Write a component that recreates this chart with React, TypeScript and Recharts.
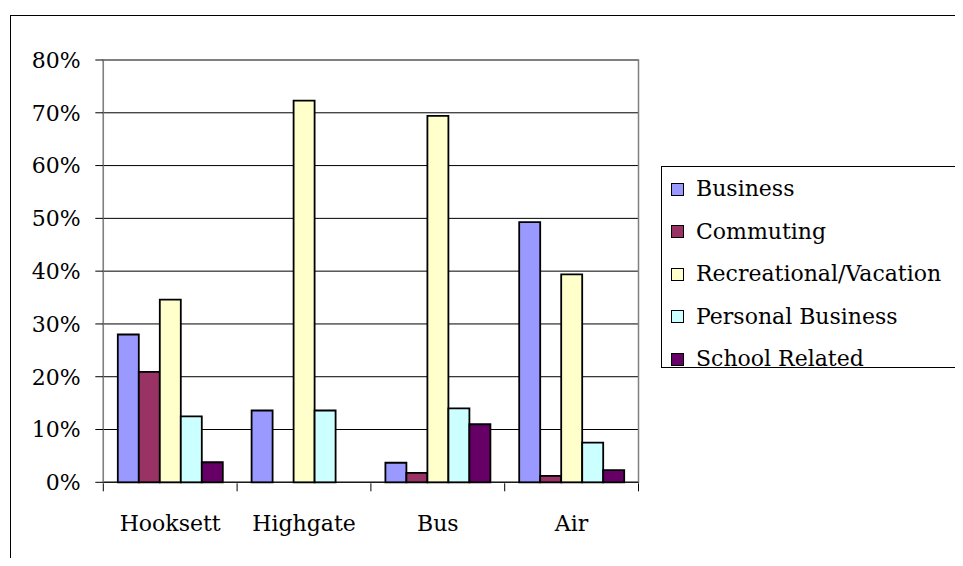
import React from 'react';
import {
  BarChart,
  Bar,
  XAxis,
  YAxis,
  CartesianGrid,
  Legend,
  ReferenceArea,
} from 'recharts';

// Trip purpose shares (percent) by travel mode
const categories = ['Hooksett', 'Highgate', 'Bus', 'Air'];
const business = [28.0, 13.6, 3.7, 49.3];
const commuting = [20.9, 0, 1.8, 1.2];
const recreational = [34.6, 72.3, 69.4, 39.4];
const personalBusiness = [12.5, 13.6, 14.0, 7.5];
const schoolRelated = [3.8, 0, 11.0, 2.3];

const yTicks = [0, 10, 20, 30, 40, 50, 60, 70, 80];
// category boundaries on a 0..n number axis
const edgeTicks = categories.map((_, i) => i).concat(categories.length);

const series = [
  { key: 'business', name: 'Business', color: '#9999FF', values: business },
  { key: 'commuting', name: 'Commuting', color: '#993366', values: commuting },
  { key: 'recreational', name: 'Recreational/Vacation', color: '#FFFFCC', values: recreational },
  { key: 'personal', name: 'Personal Business', color: '#CCFFFF', values: personalBusiness },
  { key: 'school', name: 'School Related', color: '#660066', values: schoolRelated },
];

const data = categories.map((name, i) => {
  const row: Record<string, string | number> = { name };
  series.forEach((s) => {
    row[s.key] = s.values[i];
  });
  return row;
});

const FONT = '"DejaVu Serif", serif';

// tick marks only, no text, for the category boundaries
const NoLabel = () => <g />;

const LegendBox = (props: any) => {
  const payload = props.payload || [];
  // keep the series order rather than alphabetical
  const ordered = series
    .map((s) => payload.find((p: any) => p.value === s.name))
    .filter(Boolean);
  return (
    <div
      style={{
        position: 'relative',
        width: 320,
        height: 202,
        border: '1px solid #000',
        boxSizing: 'border-box',
        background: '#fff',
        fontFamily: FONT,
        fontSize: 22,
        color: '#000',
      }}
    >
      {ordered.map((entry: any, i: number) => (
        <div
          key={entry.value}
          style={{
            position: 'absolute',
            left: 0,
            top: 1 + i * 42.5,
            height: 42.5,
            display: 'flex',
            alignItems: 'center',
            whiteSpace: 'nowrap',
          }}
        >
          <span
            style={{
              display: 'inline-block',
              width: 11,
              height: 11,
              marginLeft: 9,
              border: '1px solid #000',
              background: entry.color,
            }}
          />
          <span style={{ marginLeft: 12, lineHeight: 1 }}>{entry.value}</span>
        </div>
      ))}
    </div>
  );
};

export default function App() {
  return (
    <div
      style={{
        position: 'relative',
        width: 955,
        height: 558,
        marginBottom: -8,
        overflow: 'hidden',
        background: '#fff',
      }}
    >
      <div
        style={{
          position: 'absolute',
          left: 2,
          top: 7,
          width: 1200,
          height: 1200,
          border: '1px solid #000',
        }}
      />
      <div style={{ position: 'absolute', left: 0, top: 0 }}>
        <BarChart
          width={955}
          height={558}
          data={data}
          margin={{ top: 52, right: 324.5, left: 0, bottom: 81.7 }}
          barCategoryGap={14.5}
          barGap={0}
        >
          <CartesianGrid horizontal vertical={false} stroke="#000" strokeWidth={1} />
          <XAxis
            dataKey="name"
            height={1}
            tickLine={false}
            tickSize={0}
            tickMargin={33}
            axisLine={{ stroke: '#000' }}
            tick={{ fill: '#000', fontFamily: FONT, fontSize: 22 }}
            interval={0}
          />
          <XAxis
            xAxisId="edges"
            dataKey="edge"
            type="number"
            domain={[0, categories.length]}
            ticks={edgeTicks}
            tick={<NoLabel />}
            tickLine={{ stroke: '#000', strokeWidth: 1 }}
            tickSize={8}
            axisLine={false}
            height={1}
            interval={0}
            allowDataOverflow
          />
          <YAxis
            width={95.3}
            domain={[0, 80]}
            ticks={yTicks}
            tickFormatter={(v: number) => `${v}%`}
            tickSize={8}
            tickMargin={14.6}
            tickLine={{ stroke: '#000' }}
            axisLine={{ stroke: '#808080' }}
            tick={{ fill: '#000', fontFamily: FONT, fontSize: 22 }}
            interval={0}
          />
          <ReferenceArea
            xAxisId="edges"
            x1={0}
            x2={categories.length}
            y1={0}
            y2={80}
            fill="none"
            fillOpacity={0}
            stroke="#808080"
            strokeWidth={1.5}
          />
          {series.map((s) => (
            <Bar
              key={s.key}
              dataKey={s.key}
              name={s.name}
              fill={s.color}
              stroke="#000"
              strokeWidth={1.8}
              isAnimationActive={false}
            />
          ))}
          <Legend
            layout="vertical"
            align="center"
            verticalAlign="middle"
            content={<LegendBox />}
            wrapperStyle={{ position: 'absolute', left: 653, top: 158, width: 320, height: 202 }}
          />
        </BarChart>
      </div>
    </div>
  );
}
